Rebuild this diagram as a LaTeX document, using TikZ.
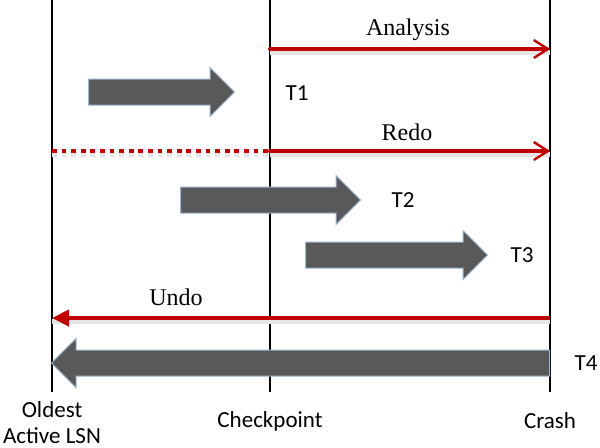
\documentclass[tikz,border=0pt]{standalone}
\usepackage{fontspec}
\setmainfont{Liberation Serif}
\newfontfamily\calibri{Carlito}
\usetikzlibrary{arrows.meta,positioning,shapes.arrows}
\definecolor{phasered}{HTML}{C00000}
\definecolor{txngray}{HTML}{595959}
\definecolor{txnedge}{HTML}{9DB3CF}
\tikzset{
  timeline/.style={draw, line width=1pt},
  phase/.style={draw=phasered, line width=2pt},
  phaseshadow/.style={draw=black!10, line width=2.5pt},
  txnbar/.style={single arrow, fill=txngray, draw=txnedge, line width=0.5pt,
    inner sep=0pt, inner ysep=6.25pt, text width=0pt, text height=0pt, text depth=0pt,
    single arrow head extend=5.75pt, anchor=tail},
  tlabel/.style={font=\calibri\fontsize{11.5}{13}\selectfont},
  plabel/.style={font=\fontsize{12}{14}\selectfont},
}

\begin{document}
\begin{tikzpicture}[x=0.5pt, y=-0.5pt]
  \fill[white] (0,0) rectangle (600,447);
  \useasboundingbox (0,0) rectangle (600,447);

  % time lines
  \coordinate (oldtop) at (52,0);
  \coordinate (oldbot) at (52,392);
  \coordinate (ckpttop) at (270,0);
  \coordinate (ckptbot) at (270,392);
  \coordinate (crashtop) at (550,0);
  \coordinate (crashbot) at (550,392);
  \draw[timeline] (oldtop) -- (oldbot);
  \draw[timeline] (ckpttop) -- (ckptbot);
  \draw[timeline] (crashtop) -- (crashbot);

  \node[tlabel, align=center] (oldest) at (52,423) {Oldest\\Active LSN};
  \node[tlabel] (checkpoint) at (270,421) {Checkpoint};
  \node[tlabel] (crash) at (550,421) {Crash};

  % Analysis
  \coordinate (anas) at (270,49);
  \coordinate (anae) at (550,49);
  \draw[phaseshadow] ([yshift=-1.8pt]anas) -- ([yshift=-1.8pt]anae);
  \draw[phase, line cap=round, -{Straight Barb[length=7pt,width=9pt,line width=1.2pt]}] (anas) -- (anae);
  \node[plabel] (analysis) at (408,30) {Analysis};

  % Redo
  \coordinate (redos) at (52,151);
  \coordinate (redom) at (270,151);
  \coordinate (redoe) at (550,151);
  \draw[phaseshadow, dash pattern=on 2.4pt off 2.4pt] ([yshift=-1.8pt]redos) -- ([yshift=-1.8pt]redom);
  \draw[phaseshadow] ([yshift=-1.8pt]redom) -- ([yshift=-1.8pt]redoe);
  \draw[phase, dash pattern=on 2.4pt off 2.4pt] (redos) -- (redom);
  \draw[phase, line cap=round, -{Straight Barb[length=7pt,width=9pt,line width=1.2pt]}] (redom) -- (redoe);
  \node[plabel] (redo) at (407,132) {Redo};

  % Undo
  \coordinate (undos) at (550,318);
  \coordinate (undoe) at (52,318);
  \draw[phaseshadow] ([yshift=-1.8pt]undos) -- ([yshift=-1.8pt]undoe);
  \draw[phase, -{Triangle[length=8.5pt,width=8pt]}] (undos) -- (undoe);
  \node[plabel] (undo) at (176,297) {Undo};

  % transactions
  \node[txnbar, minimum height=73pt] (t1) at (88,92) {};
  \node[txnbar, minimum height=90pt] (t2) at (180,200) {};
  \node[txnbar, minimum height=91pt] (t3) at (305,255) {};
  \node[txnbar, minimum height=249pt, shape border rotate=180] (t4) at (550,363) {};

  \node[tlabel] (t1lbl) at (297,93) {T1};
  \node[tlabel] (t2lbl) at (403,200) {T2};
  \node[tlabel] (t3lbl) at (522,255) {T3};
  \node[tlabel] (t4lbl) at (586,363) {T4};
\end{tikzpicture}
\end{document}
